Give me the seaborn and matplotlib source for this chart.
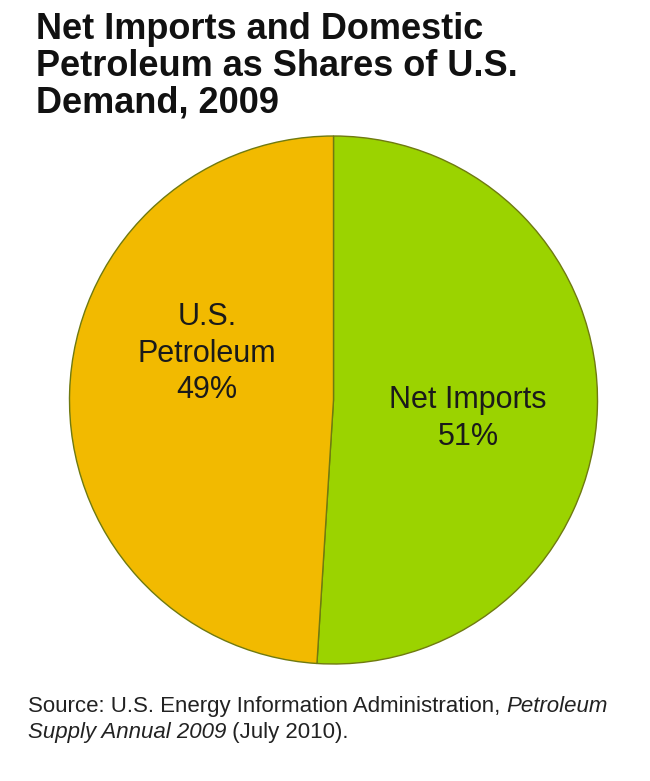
import matplotlib
matplotlib.use("Agg")
import matplotlib.pyplot as plt
import seaborn as sns

# U.S. petroleum demand shares, 2009
categories = ["Net Imports", "U.S. Petroleum"]
shares = [51, 49]
slice_labels = [["Net Imports", "51%"], ["U.S.", "Petroleum", "49%"]]
colors = ["#9BD300", "#F2BA00"]

title_lines = ["Net Imports and Domestic", "Petroleum as Shares of U.S.", "Demand, 2009"]
source_regular = "Source: U.S. Energy Information Administration, "
source_italic = "Petroleum"
source_italic2 = "Supply Annual 2009"
source_regular2 = " (July 2010)."

sns.set_theme(style="white")
plt.rcParams["font.family"] = ["Liberation Sans", "DejaVu Sans"]

W, H = 650, 781
fig = plt.figure(figsize=(W / 100, H / 100), dpi=100)
fig.patch.set_facecolor("white")

# pie geometry in pixels
cx, cy, R = 333.5, 400, 264
ax = fig.add_axes([(cx - R) / W, (H - cy - R) / H, 2 * R / W, 2 * R / H])
ax.pie(shares, colors=colors, startangle=90, counterclock=False,
       wedgeprops=dict(edgecolor="#6f7a10", linewidth=1.0))
ax.set_xlim(-1, 1)
ax.set_ylim(-1, 1)
ax.set_aspect("equal")
ax.axis("off")


def to_data(px, py):
    return (px - cx) / R, (cy - py) / R


# slice labels: centre x and baselines (px)
label_pos = [(468, [408, 445]), (207, [325, 361.5, 398])]
for lines, (px, bases) in zip(slice_labels, label_pos):
    for line, py in zip(lines, bases):
        x, y = to_data(px, py)
        ax.text(x, y, line, ha="center", va="baseline", fontsize=22, color="#1a1a1a")

# title
for i, line in enumerate(title_lines):
    fig.text(36 / W, 1 - (39.3 + 36.4 * i) / H, line, ha="left", va="baseline",
             fontsize=26, fontweight="bold", color="#111111")

# source note with italic publication name
t1 = fig.text(28 / W, 1 - 712 / H, source_regular, ha="left", va="baseline",
              fontsize=16, color="#222222")
ax.annotate(source_italic, xy=(1, 0), xycoords=t1, ha="left", va="bottom",
            fontsize=16, style="italic", color="#222222")
t3 = fig.text(28 / W, 1 - 738 / H, source_italic2, ha="left", va="baseline",
              fontsize=16, style="italic", color="#222222")
ax.annotate(source_regular2, xy=(1, 0), xycoords=t3, ha="left", va="bottom",
            fontsize=16, color="#222222")

fig.savefig("out.png", dpi=100)
